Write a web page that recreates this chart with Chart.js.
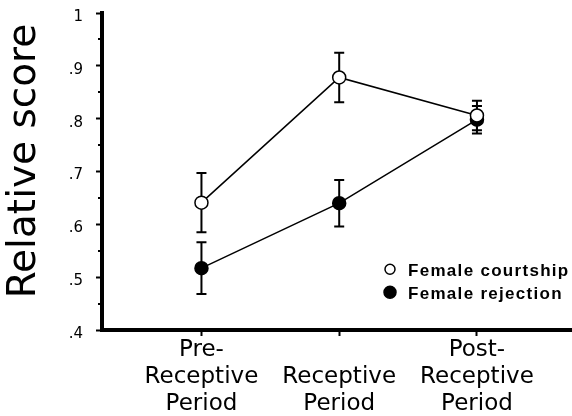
<!DOCTYPE html>
<html><head><meta charset="utf-8">
<script src="https://cdn.jsdelivr.net/npm/chart.js@4"></script>
<style>html,body{margin:0;padding:0;background:#fff}#wrap{width:572px;height:416px}</style>
</head><body><div id="wrap"><canvas id="c" width="572" height="416"></canvas></div>
<script>
const categories = [['Pre-','Receptive','Period'],['','Receptive','Period'],['Post-','Receptive','Period']];
const periodIndex = [0, 1, 2];
const courtship = [0.641, 0.878, 0.806];
const courtshipErr = [0.056, 0.047, 0.028];
const rejection = [0.517, 0.640, 0.798];
const rejectionErr = [0.049, 0.044, 0.026];
const yTicks = [0.4, 0.5, 0.6, 0.7, 0.8, 0.9, 1.0];
const yMinorTicks = [0.45, 0.55, 0.65, 0.75, 0.85, 0.95];
const seriesNames = ['Female courtship', 'Female rejection'];
const yTitle = 'Relative score';

const errs = [courtshipErr, rejectionErr];

const errorBarPlugin = {
  id: 'errbars',
  beforeDatasetsDraw(chart) {
    const ctx = chart.ctx, y = chart.scales.y;
    ctx.save();
    ctx.strokeStyle = '#000';
    ctx.lineWidth = 2;
    chart.data.datasets.forEach((ds, di) => {
      const meta = chart.getDatasetMeta(di);
      meta.data.forEach((pt, i) => {
        const v = ds.data[i].y, e = errs[di][i];
        const top = y.getPixelForValue(v + e), bot = y.getPixelForValue(v - e);
        ctx.beginPath();
        ctx.moveTo(pt.x, top); ctx.lineTo(pt.x, bot);
        ctx.moveTo(pt.x - 5, top); ctx.lineTo(pt.x + 5, top);
        ctx.moveTo(pt.x - 5, bot); ctx.lineTo(pt.x + 5, bot);
        ctx.stroke();
      });
    });
    ctx.restore();
  }
};

const decorPlugin = {
  id: 'decor',
  afterDraw(chart) {
    const ctx = chart.ctx, ca = chart.chartArea, y = chart.scales.y;
    ctx.save();
    ctx.strokeStyle = '#000'; ctx.lineWidth = 2;
    yMinorTicks.forEach(v => {
      const py = Math.round(y.getPixelForValue(v));
      ctx.beginPath(); ctx.moveTo(ca.left - 4, py); ctx.lineTo(ca.left, py); ctx.stroke();
    });
    ctx.save();
    ctx.translate(35, 161);
    ctx.rotate(-Math.PI / 2);
    ctx.font = '39px "DejaVu Sans"';
    ctx.fillStyle = '#000';
    ctx.textAlign = 'center';
    ctx.textBaseline = 'alphabetic';
    ctx.fillText(yTitle, 0, 0);
    ctx.restore();
    const lx = ca.right - 190, ly = y.getPixelForValue(0.515);
    ctx.font = 'bold 17px "Liberation Sans"';
    try { ctx.letterSpacing = '1.3px'; } catch (e) {}
    ctx.fillStyle = '#000';
    ctx.textAlign = 'left';
    ctx.textBaseline = 'alphabetic';
    chart.data.datasets.forEach((ds, di) => {
      const cy = ly + di * 23;
      ctx.beginPath();
      ctx.arc(lx + 8, cy, di === 0 ? 5 : 6, 0, Math.PI * 2);
      ctx.fillStyle = di === 0 ? '#fff' : '#000';
      ctx.fill();
      ctx.lineWidth = 1.5; ctx.strokeStyle = '#000'; ctx.stroke();
      ctx.fillStyle = '#000';
      ctx.fillText(ds.label, lx + 26, cy + 7);
    });
    ctx.restore();
  }
};

new Chart(document.getElementById('c'), {
  type: 'line',
  data: {
    datasets: [
      { label: seriesNames[0], data: periodIndex.map((x, i) => ({ x, y: courtship[i] })),
        borderColor: '#000', borderWidth: 1.5, pointRadius: 6.5, pointBackgroundColor: '#fff',
        pointBorderColor: '#000', pointBorderWidth: 1.5, fill: false, tension: 0 },
      { label: seriesNames[1], data: periodIndex.map((x, i) => ({ x, y: rejection[i] })),
        borderColor: '#000', borderWidth: 1.5, pointRadius: 6.5, pointBackgroundColor: '#000',
        pointBorderColor: '#000', pointBorderWidth: 1.5, fill: false, tension: 0 }
    ]
  },
  options: {
    responsive: false, animation: false, devicePixelRatio: 1,
    layout: { autoPadding: false, padding: { top: 13, right: 0, bottom: 0, left: 0 } },
    plugins: { legend: { display: false }, tooltip: { enabled: false } },
    scales: {
      x: {
        type: 'linear', min: -0.722, max: 2.69,
        afterBuildTicks: s => { s.ticks = periodIndex.map(v => ({ value: v })); },
        afterFit: s => { s.height = 86; s.paddingLeft = 0; s.paddingRight = 0; },
        border: { display: true, color: '#000', width: 4 },
        grid: { drawOnChartArea: false, drawTicks: true, tickLength: 6, tickWidth: 2, tickColor: '#000' },
        ticks: { color: '#000', font: { family: 'DejaVu Sans', size: 23, lineHeight: 1.17 }, padding: 1,
          maxRotation: 0, autoSkip: false, callback: v => categories[Math.round(v)] }
      },
      y: {
        min: 0.4, max: 1.0,
        afterBuildTicks: s => { s.ticks = yTicks.map(v => ({ value: v })); },
        afterFit: s => { s.width = 102; s.paddingTop = 0; s.paddingBottom = 0; },
        border: { display: true, color: '#000', width: 4 },
        grid: { drawOnChartArea: false, drawTicks: true, tickLength: 6, tickWidth: 2, tickColor: '#000' },
        ticks: { color: '#000', font: { family: 'DejaVu Sans', size: 15 }, padding: 13, labelOffset: 4,
          callback: v => Math.abs(v - 1) < 1e-9 ? '1' : v.toFixed(1).replace(/^0/, '') }
      }
    }
  },
  plugins: [errorBarPlugin, decorPlugin]
});
</script></body></html>
